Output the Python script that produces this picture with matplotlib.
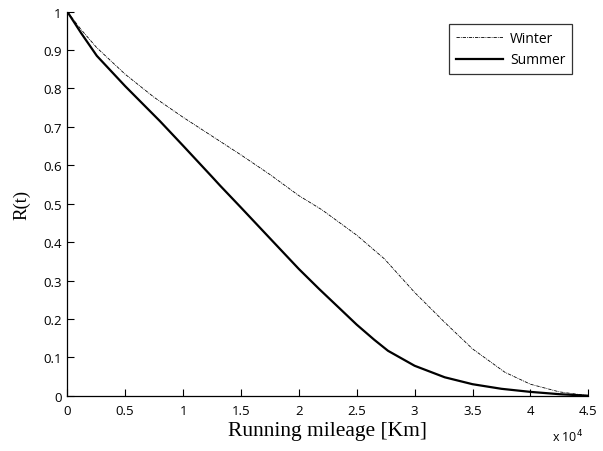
import matplotlib
matplotlib.use("Agg")
import matplotlib.pyplot as plt

# running mileage in units of 10^4 km
winter_x = [0, 0.12, 0.255, 0.5, 0.75, 1.0, 1.25, 1.5, 1.75, 2.0, 2.2, 2.5, 2.74, 3.0, 3.26, 3.5, 3.78, 4.0, 4.25, 4.5]
winter_r = [1.0, 0.953, 0.906, 0.837, 0.777, 0.725, 0.676, 0.627, 0.576, 0.521, 0.484, 0.418, 0.356, 0.269, 0.191, 0.122, 0.061, 0.030, 0.010, 0.0]

summer_x = [0, 0.12, 0.255, 0.5, 0.645, 0.8, 1.0, 1.25, 1.32, 1.5, 1.756, 2.0, 2.175, 2.35, 2.5, 2.65, 2.77, 3.0, 3.26, 3.5, 3.75, 4.0, 4.25, 4.5]
summer_r = [1.0, 0.944, 0.885, 0.806, 0.762, 0.715, 0.651, 0.570, 0.547, 0.490, 0.408, 0.330, 0.278, 0.228, 0.185, 0.146, 0.117, 0.078, 0.048, 0.030, 0.018, 0.010, 0.004, 0.0]

x_ticks = [0, 0.5, 1, 1.5, 2, 2.5, 3, 3.5, 4, 4.5]
x_tick_labels = ["0", "0.5", "1", "1.5", "2", "2.5", "3", "3.5", "4", "4.5"]
y_ticks = [0, 0.1, 0.2, 0.3, 0.4, 0.5, 0.6, 0.7, 0.8, 0.9, 1]
y_tick_labels = ["0", "0.1", "0.2", "0.3", "0.4", "0.5", "0.6", "0.7", "0.8", "0.9", "1"]

SANS = "Open Sans"
SERIF = "Liberation Serif"

fig = plt.figure(figsize=(6.03, 4.52), dpi=100)
ax = fig.add_axes([0.1116, 0.1223, 0.8640, 0.8497])

ax.plot(winter_x, winter_r, color="black", lw=0.6,
        linestyle=(0, (4, 1.2, 1, 1.2)), label="Winter")
ax.plot(summer_x, summer_r, color="black", lw=1.6, label="Summer")

ax.set_xlim(0, 4.5)
ax.set_ylim(0, 1)
ax.set_xticks(x_ticks)
ax.set_xticklabels(x_tick_labels, fontfamily=SANS, fontsize=9.5)
ax.set_yticks(y_ticks)
ax.set_yticklabels(y_tick_labels, fontfamily=SANS, fontsize=9.5)
ax.tick_params(direction="in", length=5, width=0.8)
ax.tick_params(axis="x", pad=6)
ax.tick_params(axis="y", pad=4)

for side in ["top", "right"]:
    ax.spines[side].set_visible(False)
for side in ["left", "bottom"]:
    ax.spines[side].set_linewidth(0.9)

ax.set_xlabel("Running mileage [Km]", fontfamily=SERIF, fontsize=15.5, labelpad=3)
ax.set_ylabel("R(t)", fontfamily=SERIF, fontsize=13.5, labelpad=9)

fig.text(0.915, 0.022, r"x 10$^{4}$", fontfamily=SANS, fontsize=9)

leg = ax.legend(loc="upper right", bbox_to_anchor=(0.983, 0.987),
                prop={"family": SANS, "size": 10}, frameon=True, fancybox=False,
                handlelength=3.4, handletextpad=0.5, borderpad=0.5, labelspacing=0.5)
leg.get_frame().set_edgecolor("black")
leg.get_frame().set_linewidth(0.9)

fig.savefig("out.png", dpi=100)
